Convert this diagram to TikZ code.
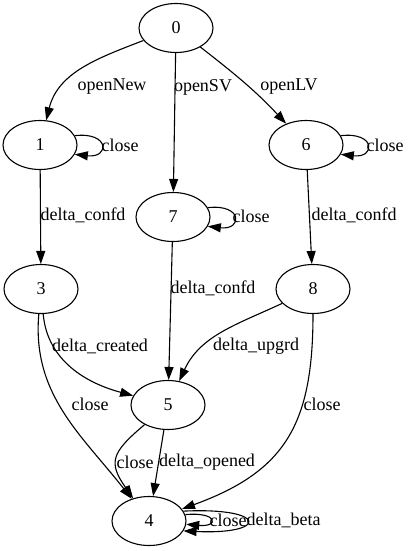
\documentclass[tikz,border=0pt]{standalone}
\usepackage{fontspec}
\setmainfont{Liberation Serif}
\usetikzlibrary{arrows.meta,shapes.geometric}
\begin{document}
\begin{tikzpicture}[x=1pt, y=1pt, font=\fontsize{18}{22}\selectfont]
    \tikzset{>={Triangle[length=13pt,width=9pt]}}
    \tikzset{state/.style={draw, ellipse, line width=1.1pt, minimum width=74pt, minimum height=49pt, inner sep=0pt},
             edge/.style={->, line width=1.1pt},
             lbl/.style={inner sep=0pt}}
    \useasboundingbox (0,0) rectangle (409,-551);
    % states
    \node[state] (n0) at (176,-28) {0};
    \node[state] (n1) at (40,-145) {1};
    \node[state] (n6) at (306,-145) {6};
    \node[state] (n7) at (173,-217) {7};
    \node[state] (n3) at (41,-289) {3};
    \node[state] (n8) at (313,-289) {8};
    \node[state] (n5) at (168,-405) {5};
    \node[state] (n4) at (149,-521) {4};
    % transitions
    \draw[edge] (n0) to[out=201,in=76] (n1);
    \draw[edge] (n0) -- (n7);
    \draw[edge] (n0) to[out=-38,in=133] (n6);
    \draw[edge] (n1.15) .. controls +(35,4) and +(35,-4) .. (n1.-15);
    \draw[edge] (n6.15) .. controls +(35,4) and +(35,-4) .. (n6.-15);
    \draw[edge] (n7.15) .. controls +(35,4) and +(35,-4) .. (n7.-15);
    \draw[edge] (n1) -- (n3);
    \draw[edge] (n6) -- (n8);
    \draw[edge] (n7) -- (n5);
    \draw[edge] (n3) to[out=-85,in=165] (n5);
    \draw[edge] (n8) to[out=205,in=65] (n5);
    \draw[edge] (n3) to[out=-95,in=128] (n4);
    \draw[edge] (n8) to[out=-90,in=20,looseness=1.2] (n4);
    \draw[edge] (n5) to[out=220,in=125,looseness=1.5] (n4);
    \draw[edge] (n5) -- (n4);
    \draw[edge] (n4.10) .. controls +(33,3) and +(33,-3) .. (n4.-5);
    \draw[edge] (n4.16) .. controls +(85,4) and +(85,-4) .. (n4.-16);
    % labels
    \node[lbl] (l01) at (112,-87) {openNew};
    \node[lbl] (l07) at (203,-87) {openSV};
    \node[lbl] (l06) at (289,-87) {openLV};
    \node[lbl] (l11) at (120,-145) {close};
    \node[lbl] (l66) at (385,-145) {close};
    \node[lbl] (l77) at (251,-216) {close};
    \node[lbl] (l13) at (83,-215) {delta\_confd};
    \node[lbl] (l68) at (354,-215) {delta\_confd};
    \node[lbl] (l75) at (213,-288) {delta\_confd};
    \node[lbl] (l35) at (100,-346) {delta\_created};
    \node[lbl] (l85) at (256,-346) {delta\_upgrd};
    \node[lbl] (l34) at (90,-404) {close};
    \node[lbl] (l84) at (322,-404) {close};
    \node[lbl] (l54) at (135,-462) {close};
    \node[lbl] (l54b) at (207,-462) {delta\_opened};
    \node[lbl] (l44) at (228,-520) {close};
    \node[lbl] (l44b) at (283.5,-520) {delta\_beta};
\end{tikzpicture}
\end{document}
